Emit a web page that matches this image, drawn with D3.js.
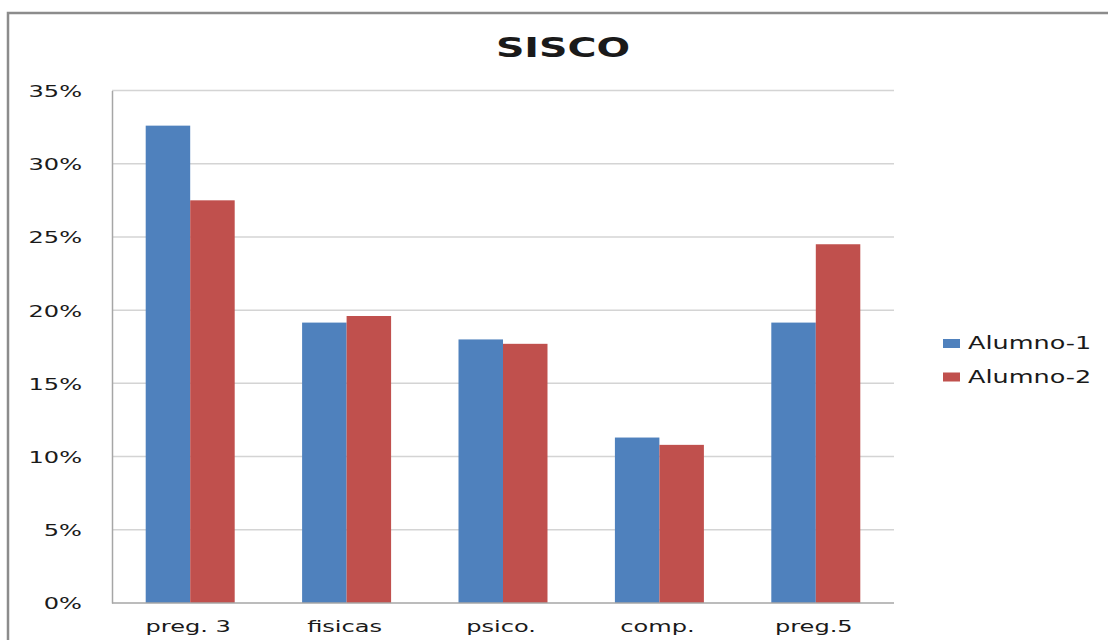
<!DOCTYPE html>
<html>
<head>
<meta charset="utf-8">
<script src="https://cdn.jsdelivr.net/npm/d3@7"></script>
<style>
  html, body { margin: 0; padding: 0; background: #fff; }
  svg { display: block; }
  text { font-family: "DejaVu Sans", sans-serif; fill: #1a1a1a; }
</style>
</head>
<body>
<svg id="chart" width="1108" height="640"></svg>
<script>
// Data
const categories = ["preg. 3", "fisicas", "psico.", "comp.", "preg.5"];
const seriesNames = ["Alumno-1", "Alumno-2"];
const alumno1 = [0.326, 0.1915, 0.180, 0.113, 0.1915];
const alumno2 = [0.275, 0.196, 0.177, 0.108, 0.245];
const yTicks = [0, 0.05, 0.10, 0.15, 0.20, 0.25, 0.30, 0.35];
const colors = ["#4F81BD", "#C0504D"];

const rows = categories.map((c, i) => ({ cat: c, values: [alumno1[i], alumno2[i]] }));

const svg = d3.select("#chart");
const plot = { left: 112, right: 894, top: 90.5, bottom: 603 };
const sx = 1.46; // horizontal stretch applied to axis text

// Outer frame
svg.append("rect")
  .attr("x", 8).attr("y", 13)
  .attr("width", 1120).attr("height", 650)
  .attr("fill", "none").attr("stroke", "#8c8c8c").attr("stroke-width", 2.5);

const x0 = d3.scaleBand().domain(categories)
  .range([plot.left, plot.right])
  .paddingInner(0.431).paddingOuter(0.2155);
const x1 = d3.scaleBand().domain(seriesNames).range([0, x0.bandwidth()]);
const y = d3.scaleLinear().domain([0, 0.35]).range([plot.bottom, plot.top]);

// Gridlines
svg.append("g").selectAll("line").data(yTicks.filter(t => t > 0)).join("line")
  .attr("x1", plot.left).attr("x2", plot.right)
  .attr("y1", d => y(d)).attr("y2", d => y(d))
  .attr("stroke", "#d4d4d4").attr("stroke-width", 1.5);

// Bars
const groups = svg.append("g").selectAll("g").data(rows).join("g")
  .attr("transform", d => `translate(${x0(d.cat)},0)`);
groups.selectAll("rect").data(d => d.values.map((v, i) => ({ v, s: seriesNames[i], i })))
  .join("rect")
  .attr("x", d => x1(d.s))
  .attr("width", x1.bandwidth())
  .attr("y", d => y(d.v))
  .attr("height", d => y(0) - y(d.v))
  .attr("fill", d => colors[d.i]);

// Y axis
const yAxis = svg.append("g")
  .attr("transform", `translate(${plot.left},0)`)
  .call(d3.axisLeft(y).tickValues(yTicks).tickFormat(d3.format(".0%")).tickSize(0).tickPadding(0));
yAxis.select(".domain").attr("stroke", "#a6a6a6").attr("stroke-width", 1.5);
yAxis.selectAll(".tick text")
  .attr("x", 0).attr("dy", "0.36em")
  .style("font-size", "16.5px").style("font-family", "DejaVu Sans, sans-serif").attr("fill", "#1a1a1a")
  .attr("transform", `translate(-30,0) scale(${sx},1)`);

// X axis
const xAxis = svg.append("g")
  .attr("transform", `translate(0,${plot.bottom})`)
  .call(d3.axisBottom(x0).tickSize(0).tickPadding(0));
xAxis.select(".domain").attr("stroke", "#a6a6a6").attr("stroke-width", 1.5)
  .attr("d", `M${plot.left},0H${plot.right}`);
xAxis.selectAll(".tick text")
  .attr("y", 0).attr("dy", 0)
  .style("font-size", "16.5px").style("font-family", "DejaVu Sans, sans-serif").attr("fill", "#1a1a1a")
  .attr("transform", `translate(-2,29) scale(${sx},1)`);

// Title
svg.append("text")
  .attr("transform", `translate(563,57) scale(1.52,1)`)
  .attr("text-anchor", "middle")
  .style("font-size", "26px").style("font-weight", "bold")
  .attr("fill", "#000")
  .text("SISCO");

// Legend
const legend = svg.append("g").selectAll("g").data(seriesNames).join("g")
  .attr("transform", (d, i) => `translate(943,${339 + i * 33.5})`);
legend.append("rect").attr("width", 17).attr("height", 9).attr("fill", (d, i) => colors[i]);
legend.append("text")
  .attr("transform", `translate(25,10) scale(1.5,1)`)
  .style("font-size", "17px")
  .text(d => d);
</script>
</body>
</html>
